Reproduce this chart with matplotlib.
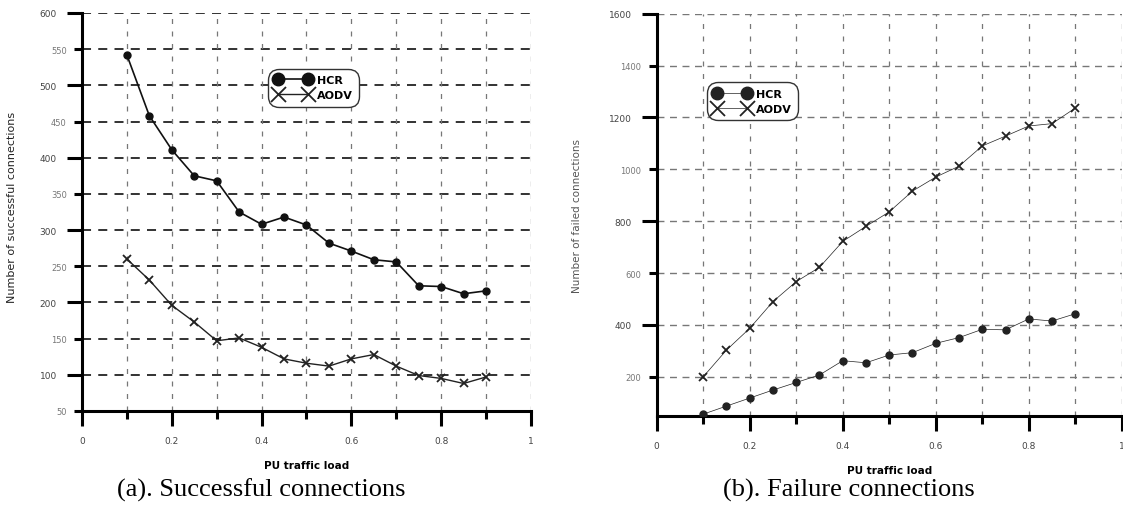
import matplotlib
matplotlib.use('Agg')
import numpy as np
import matplotlib.pyplot as plt

# PU traffic load
load = [0.1, 0.15, 0.2, 0.25, 0.3, 0.35, 0.4, 0.45, 0.5,
        0.55, 0.6, 0.65, 0.7, 0.75, 0.8, 0.85, 0.9]

# (a) successful connections
hcr_success = [542, 458, 411, 375, 368, 325, 308, 318, 307,
               282, 271, 259, 256, 223, 222, 212, 216]
aodv_success = [260, 231, 196, 173, 147, 151, 138, 122, 116,
                112, 122, 128, 112, 99, 95, 88, 97]

# (b) failed connections
hcr_failed = [56, 87, 118, 149, 178, 207, 262, 254, 284,
              293, 329, 351, 383, 381, 423, 415, 443]
aodv_failed = [200, 303, 387, 490, 567, 622, 722, 780, 836,
               916, 970, 1012, 1090, 1128, 1167, 1176, 1236]

x_major = [0, 0.2, 0.4, 0.6, 0.8, 1]
x_minor = [0.1, 0.3, 0.5, 0.7, 0.9]
x_labels = ['0', '0.2', '0.4', '0.6', '0.8', '1']

a_major = [100, 200, 300, 400, 500, 600]
a_minor = [50, 150, 250, 350, 450, 550]
b_major = [400, 800, 1200, 1600]
b_minor = [200, 600, 1000, 1400]

captions = ['(a). Successful connections', '(b). Failure connections']

fig = plt.figure(figsize=(11.23, 5.06), dpi=100)
ax1 = fig.add_axes([0.0730, 0.1858, 0.3998, 0.7866])
ax2 = fig.add_axes([0.5848, 0.1765, 0.4141, 0.7945])


def style_axes(ax, ymajor, yminor, ylim, grid_col, grid_lw):
    ax.set_xlim(0, 1)
    ax.set_ylim(*ylim)
    for s in ['top', 'right']:
        ax.spines[s].set_visible(False)
    for s in ['left', 'bottom']:
        ax.spines[s].set_linewidth(2.2)
    ax.set_xticks(x_major)
    ax.set_xticklabels(x_labels)
    ax.set_xticks(x_minor, minor=True)
    ax.set_yticks(ymajor)
    ax.set_yticks(yminor, minor=True)
    ax.set_yticklabels([str(v) for v in yminor], minor=True)
    ax.tick_params(axis='both', which='major', direction='out', length=11,
                   width=2.2, labelsize=6.5, labelcolor='#444444', pad=7)
    ax.tick_params(axis='both', which='minor', direction='out', length=6,
                   width=2.2, labelsize=6, labelcolor='#777777', pad=7)
    ax.tick_params(axis='y', which='minor', pad=5)
    for v in ymajor + yminor:
        if ylim[0] < v:
            ax.axhline(v, color=grid_col, lw=grid_lw, ls=(0, (5, 4)), zorder=0)
    for v in x_major[1:] + x_minor:
        ax.axvline(v, color='#777777', lw=0.9, ls=(0, (4, 6)), zorder=0)


style_axes(ax1, a_major, a_minor, (50, 600), '#222222', 1.3)
style_axes(ax2, b_major, b_minor, (50, 1600), '#777777', 1.0)

ax1.plot(load, hcr_success, color='#111111', lw=1.2, marker='o', ms=5,
         label='HCR', zorder=3)
ax1.plot(load, aodv_success, color='#222222', lw=1.0, marker='x', ms=6,
         mew=1.3, label='AODV', zorder=3)

ax2.plot(load, hcr_failed, color='#222222', lw=0.5, marker='o', ms=5,
         label='HCR', zorder=3)
ax2.plot(load, aodv_failed, color='#222222', lw=0.5, marker='x', ms=6,
         mew=1.3, label='AODV', zorder=3)

for ax, anchor in [(ax1, (0.414, 0.86)), (ax2, (0.108, 0.83))]:
    leg = ax.legend(loc='upper left', bbox_to_anchor=anchor, borderaxespad=0,
                    numpoints=2, handlelength=3.3, markerscale=1.8,
                    prop={'size': 8, 'weight': 'bold'}, fancybox=True,
                    framealpha=1, edgecolor='#333333', labelspacing=0.45,
                    handletextpad=0.5, borderpad=0.6)
    leg.get_frame().set_linewidth(1.0)
    leg.get_frame().set_boxstyle('round', pad=0, rounding_size=1.0)

ax1.set_xlabel('PU traffic load', fontsize=7.5, fontweight='bold', labelpad=11)
ax2.set_xlabel('PU traffic load', fontsize=7.5, fontweight='bold', labelpad=11)
ax1.set_ylabel('Number of successful connections', fontsize=8, color='#222222')
ax2.set_ylabel('Number of failed connections', fontsize=7.5, color='#555555')
ax1.yaxis.set_label_coords(-0.145, 0.515)
ax2.yaxis.set_label_coords(-0.16, 0.5)

fig.text(0.233, 0.018, captions[0], family='Liberation Serif', fontsize=19,
         ha='center', va='baseline')
fig.text(0.756, 0.018, captions[1], family='Liberation Serif', fontsize=19,
         ha='center', va='baseline')

fig.savefig('out.png', dpi=100)
